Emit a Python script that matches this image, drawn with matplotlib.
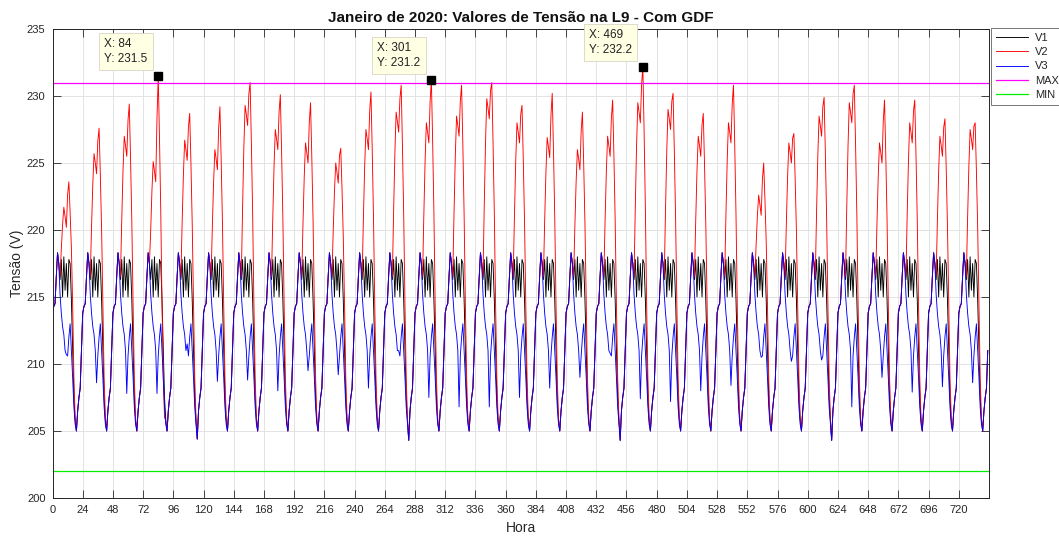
import numpy as np
import matplotlib
matplotlib.use('Agg')
import matplotlib.pyplot as plt

plt.rcParams['font.family'] = ['Liberation Sans', 'DejaVu Sans']

# ---------------- data ----------------
n_days = 31
hours_per_day = 24

# typical hourly profile of V3 (hour of day 0..23), volts
v3_profile = [213.8, 214.3, 214.5, 216.5, 218.3, 217.5, 215.2, 213.8, 212.8, 212.2, 211.0, 209.0,
              210.6, 212.0, 213.0, 211.0, 209.0, 206.8, 205.5, 205.0, 206.5, 207.5, 208.2, 211.0]
# V3 midday dip (hour 11) per day
v3_midday_dip = [210.7, 208.6, 207.8, 207.8, 211.5, 208.7, 208.8, 208.0, 209.5, 209.2, 208.2,
                 211.0, 207.5, 206.8, 206.8, 207.5, 208.2, 209.0, 210.8, 207.4, 207.2, 208.0,
                 208.4, 210.5, 210.2, 210.3, 206.8, 209.0, 207.9, 208.3, 208.6]
# V3 night minimum (hour 19) per day
v3_night_min = [205.0, 205.0, 205.0, 205.0, 204.4, 205.0, 205.0, 205.0, 205.0, 205.0, 205.0,
                204.3, 205.0, 205.0, 205.0, 205.0, 205.0, 205.0, 204.3, 205.0, 205.0, 205.0,
                205.0, 205.0, 205.0, 204.3, 205.0, 205.0, 205.0, 205.0, 205.0]
# V1 daytime oscillation (hours 6..18); V1 follows V3 otherwise
v1_daytime = [216.3, 217.8, 215.0, 218.0, 215.5, 217.5, 215.0, 217.8, 217.5, 214.8, 211.0, 207.5, 205.8]
# V2 daily peak, shoulder before the peak and hour of the peak
v2_peak = [223.6, 227.6, 229.4, 231.5, 228.7, 229.2, 231.0, 230.1, 229.5, 226.1, 230.3,
           230.8, 231.2, 230.8, 231.0, 229.3, 230.2, 228.8, 229.7, 232.2, 230.2, 228.7,
           230.8, 225.0, 227.2, 229.9, 230.8, 229.7, 229.7, 228.3, 228.0]
v2_shoulder = [221.7, 225.7, 227.0, 225.1, 226.7, 226.0, 229.3, 227.5, 226.5, 225.0, 227.5,
               228.8, 228.0, 228.5, 229.8, 228.0, 226.9, 226.0, 227.0, 229.5, 229.0, 227.0,
               228.0, 222.6, 226.5, 228.5, 229.5, 226.5, 228.0, 227.0, 227.5]
v2_peak_hour = [13, 13, 13, 12, 13, 13, 13, 13, 13, 13, 13,
                13, 13, 13, 13, 13, 13, 13, 13, 13, 13, 13,
                13, 13, 13, 13, 13, 13, 13, 13, 13]

limit_max = 231.0
limit_min = 202.0

datatips = [(84, 231.5), (301, 231.2), (469, 232.2)]

# ---------------- build hourly series ----------------
v3, v1, v2 = [], [], []
for d in range(n_days):
    day3 = list(v3_profile)
    day3[11] = v3_midday_dip[d]
    day3[19] = v3_night_min[d]
    day1 = list(day3)
    day1[6:19] = v1_daytime
    day2 = list(day1)
    P, S = v2_peak[d], v2_shoulder[d]
    red = [216.5, 216.5 + (S - 216.5) * 0.4, 216.5 + (S - 216.5) * 0.75, S, S - 0.7, S - 1.5,
           (S + P) / 2, P, P - (P - 216) * 0.3, 216 + (P - 216) * 0.35, 214.5, 209.0, 206.0]
    k = v2_peak_hour[d] - 13
    for i, val in enumerate(red):
        h = 6 + k + i
        if 0 <= h < 24:
            day2[h] = max(val, day1[h]) if i < 10 else val
    v3 += day3
    v1 += day1
    v2 += day2

hours = np.arange(len(v3))

# ---------------- figure ----------------
W, H = 1059, 537
fig = plt.figure(figsize=(W / 100, H / 100), dpi=100)
ax = fig.add_axes([52.5 / W, 1 - 498 / H, (989 - 52.5) / W, (498 - 29) / H])

lw = 0.65
l1, = ax.plot(hours, v1, color='k', lw=lw, label='V1')
l2, = ax.plot(hours, v2, color='#ff0000', lw=lw, label='V2')
l3, = ax.plot(hours, v3, color='#0000ff', lw=lw, label='V3')
l4 = ax.axhline(limit_max, color='#ff00ff', lw=0.9, label='MAX')
l5 = ax.axhline(limit_min, color='#00ee00', lw=0.9, label='MIN')

ax.set_xlim(0, 744)
ax.set_ylim(200, 235)
ax.set_xticks(np.arange(0, 721, 24))
ax.set_yticks(np.arange(200, 236, 5))
ax.grid(True, color='#e3e3e3', lw=0.7)
ax.set_axisbelow(True)
ax.tick_params(direction='in', length=6, width=0.6, colors='#262626', labelsize=8,
               top=True, right=True, pad=5)
for s in ax.spines.values():
    s.set_color('#262626')
    s.set_linewidth(0.7)

ax.set_title('Janeiro de 2020: Valores de Tensão na L9 - Com GDF', fontsize=11,
             fontweight='bold', color='#111111', pad=5)
ax.set_xlabel('Hora', fontsize=10, color='#262626', labelpad=4)
ax.set_ylabel('Tensão (V)', fontsize=10, color='#262626', labelpad=2)

for xv, yv in datatips:
    ax.plot([xv], [yv], marker='s', color='k', markersize=5.5, zorder=6, clip_on=False)
    ax.annotate(f'X: {xv}\nY: {yv}', xy=(xv, yv), xytext=(-11, 11), textcoords='offset pixels',
                ha='right', va='bottom', multialignment='left', fontsize=8.5, color='#222222',
                linespacing=1.3,
                bbox=dict(boxstyle='square,pad=0.45', fc='#ffffe4', ec='#d6d6c6', lw=0.6),
                zorder=7)

leg = fig.legend(handles=[l1, l2, l3, l4, l5], loc='upper left',
                 bbox_to_anchor=(991 / W, 1 - 28 / H), fontsize=8, frameon=True,
                 fancybox=False, framealpha=1, edgecolor='#777777', borderpad=0.45,
                 handlelength=2.9, handletextpad=0.6, labelspacing=0.38, borderaxespad=0)
leg.get_frame().set_linewidth(0.7)
for t in leg.get_texts():
    t.set_color('#262626')

fig.savefig('out.png', dpi=100)
